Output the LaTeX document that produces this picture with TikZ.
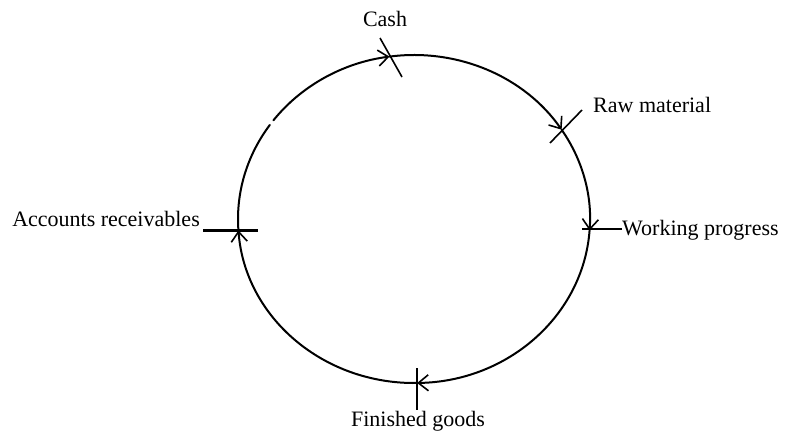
\documentclass[tikz,border=0pt]{standalone}
\usepackage{fontspec}
\setmainfont{Liberation Serif}
\usetikzlibrary{arrows.meta,calc}
\begin{document}
\begin{tikzpicture}[x=1pt,y=1pt,
  ring/.style={line width=2pt,line cap=round},
  flow/.style={ring,-{Straight Barb[length=10pt,width=16pt,line width=1.6pt]}},
  tick/.style={line width=1.6pt},
  thicktick/.style={line width=3pt},
  lbl/.style={font=\fontsize{22}{26}\selectfont,inner sep=0pt}]
\useasboundingbox (0,0) rectangle (785,-434);
\coordinate (c) at (414,-219);
% points on the cycle
\coordinate (pcash) at ($(c)+(98:176pt and 164pt)$);
\coordinate (praw)  at ($(c)+(33:176pt and 164pt)$);
\coordinate (pwip)  at ($(c)+(-4:176pt and 164pt)$);
\coordinate (pfin)  at ($(c)+(-89:176pt and 164pt)$);
\coordinate (prec)  at ($(c)+(-176:176pt and 164pt)$);
\coordinate (pgap)  at ($(c)+(-217:176pt and 164pt)$);
% arcs (clockwise)
\draw[flow] (pcash) arc[start angle=98,end angle=33,x radius=176pt,y radius=164pt];
\draw[flow] (praw) arc[start angle=33,end angle=-4,x radius=176pt,y radius=164pt];
\draw[flow] (pwip) arc[start angle=-4,end angle=-89,x radius=176pt,y radius=164pt];
\draw[flow] (pfin) arc[start angle=-89,end angle=-176,x radius=176pt,y radius=164pt];
\draw[ring] (prec) arc[start angle=-176,end angle=-215,x radius=176pt,y radius=164pt];
\draw[flow] (pgap) arc[start angle=-217,end angle=-262,x radius=176pt,y radius=164pt];
% ticks
\coordinate (cashA) at (380,-38); \coordinate (cashB) at (402,-77);
\coordinate (rawA) at (550,-143); \coordinate (rawB) at (582,-110);
\coordinate (wipA) at (582,-229); \coordinate (wipB) at (622,-229);
\coordinate (finA) at (417,-368); \coordinate (finB) at (417,-410);
\coordinate (recA) at (203,-230); \coordinate (recB) at (258,-230);
\draw[tick] (cashA) -- (cashB);
\draw[tick] (rawA) -- (rawB);
\draw[tick] (wipA) -- (wipB);
\draw[tick] (finA) -- (finB);
\draw[thicktick] (recA) -- (recB);
% labels
\node[lbl] (cash) at (385,-19) {Cash};
\node[lbl,anchor=west] (raw) at (593,-105) {Raw material};
\node[lbl,anchor=west] (wip) at (622,-230) {Working progress};
\node[lbl] (fin) at (418,-421) {Finished goods};
\node[lbl,anchor=east] (rec) at (200,-219) {Accounts receivables};
\end{tikzpicture}
\end{document}
